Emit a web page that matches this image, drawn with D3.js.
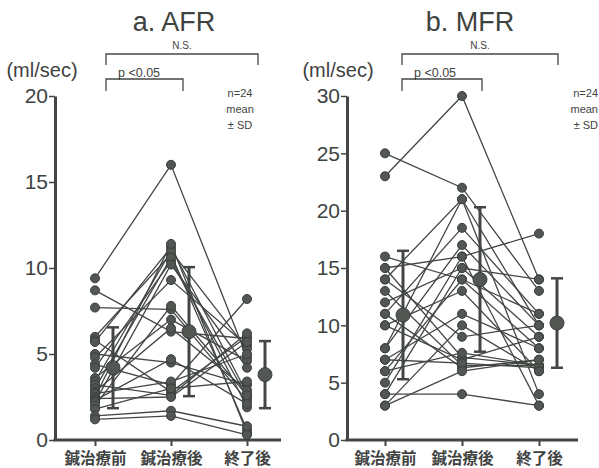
<!DOCTYPE html>
<meta charset="utf-8">
<style>
body { margin: 0; background: white; }
text { font-family: "Liberation Sans", Arial, sans-serif; fill: #3f433f; }
.cjk { font-family: "Noto Sans CJK JP", sans-serif; font-weight: bold; }
</style>
<body>
<script src="https://cdn.jsdelivr.net/npm/d3@7"></script>
<script>
var categories = ['鍼治療前', '鍼治療後', '終了後']

var afrPre  = [9.4, 8.7, 7.7, 6.0, 5.8, 5.7, 5.0, 4.8, 4.4, 4.2, 3.6, 3.4, 3.2, 3.0, 2.8, 2.7, 2.5, 2.4, 2.3, 2.2, 2.0, 1.8, 1.4, 1.2]
var afrPost = [16.0, 6.3, 7.6, 10.8, 2.8, 11.2, 4.5, 9.3, 3.2, 10.4, 7.0, 11.0, 2.6, 10.6, 6.5, 3.4, 11.4, 2.5, 4.7, 10.2, 7.8, 3.0, 1.7, 1.4]
var afrEnd  = [4.8, 5.9, 2.3, 0.6, 6.0, 2.7, 3.2, 5.5, 8.2, 2.5, 4.6, 5.3, 6.2, 1.9, 2.9, 5.0, 0.4, 5.7, 2.1, 4.2, 2.6, 3.4, 0.8, 0.3]
var afrMean = [4.2, 6.3, 3.8]
var afrSd   = [2.35, 3.75, 1.95]
var afrTicks = [0, 5, 10, 15, 20]

var mfrPre  = [25, 23, 16, 15, 15, 14, 14, 13, 12, 11, 11, 10, 10, 8, 8, 7, 7, 6, 6, 5, 4, 4, 3, 3]
var mfrPost = [22, 30, 14, 16, 7.2, 21, 9, 6.5, 15, 18.5, 6.3, 13, 7, 17, 21, 6.7, 11, 14, 7.6, 16, 4, 15, 6, 10]
var mfrEnd  = [13, 14, 8, 18, 6.5, 10, 10, 6.5, 9, 11, 7, 6, 9, 10, 4, 6.3, 8, 11, 6.5, 3, 3, 14, 7, 6]
var mfrMean = [10.9, 14.0, 10.2]
var mfrSd   = [5.6, 6.3, 3.9]
var mfrTicks = [0, 5, 10, 15, 20, 25, 30]

var ink = '#434743'

var svg = d3.select('body').append('svg')
    .attr('width', 599)
    .attr('height', 468)

drawPanel({
    title: 'a.  AFR', titleX: 174, axisX: 55, axisEnd: 281, cats: [95, 247],
    max: 20, ticks: afrTicks, series: [afrPre, afrPost, afrEnd], mean: afrMean, sd: afrSd,
    unitX: 42, noteX: 240, noteAnchor: 'middle', bracketL: 106, bracketM: 183, bracketR: 258
})

drawPanel({
    title: 'b.  MFR', titleX: 470, axisX: 347, axisEnd: 578, cats: [385, 539],
    max: 30, ticks: mfrTicks, series: [mfrPre, mfrPost, mfrEnd], mean: mfrMean, sd: mfrSd,
    unitX: 338, noteX: 598, noteAnchor: 'end', bracketL: 402, bracketM: 482, bracketR: 558
})

function drawPanel(p) {
    var g = svg.append('g')
    var y = d3.scaleLinear().domain([0, p.max]).range([440, 96])
    var x = d3.scalePoint().domain(categories).range(p.cats)
    var off = 18

    g.append('text').attr('x', p.titleX).attr('y', 31)
        .attr('text-anchor', 'middle').attr('font-size', 27).text(p.title)
    g.append('text').attr('x', p.unitX).attr('y', 77)
        .attr('text-anchor', 'middle').attr('font-size', 20).text('(ml/sec)')

    // significance brackets
    var br = g.append('g').attr('fill', 'none').attr('stroke', ink).attr('stroke-width', 1.3)
    br.append('path').attr('d', 'M' + p.bracketL + ',65V54H' + p.bracketR + 'V65')
    br.append('path').attr('d', 'M' + p.bracketL + ',91V79H' + p.bracketM + 'V91')
    g.append('text').attr('x', (p.bracketL + p.bracketR) / 2).attr('y', 49)
        .attr('text-anchor', 'middle').attr('font-size', 10).text('N.S.')
    g.append('text').attr('x', p.bracketL + 12).attr('y', 77)
        .attr('font-size', 12.5).text('p <0.05')

    // note
    var note = g.append('text').attr('font-size', 11).attr('text-anchor', p.noteAnchor)
    ;['n=24', 'mean', '± SD'].forEach(function (t, i) {
        note.append('tspan').attr('x', p.noteX).attr('y', 97 + i * 16).text(t)
    })

    // axes
    var ya = g.append('g').attr('transform', 'translate(' + p.axisX + ',0)')
        .call(d3.axisLeft(y).tickValues(p.ticks).tickSize(6).tickSizeOuter(0))
    ya.select('.domain').attr('stroke', ink).attr('stroke-width', 3)
    ya.selectAll('.tick line').attr('stroke', ink).attr('stroke-width', 1.5)
    ya.selectAll('.tick text').attr('font-size', 21).attr('fill', '#4a4e4a')
        .attr('font-family', '"Liberation Sans", Arial, sans-serif').attr('x', -7)

    var xa = g.append('g').attr('transform', 'translate(0,440)')
        .call(d3.axisBottom(x).tickSize(6).tickSizeOuter(0))
    xa.select('.domain').attr('d', 'M' + (p.axisX - 1.5) + ',0H' + p.axisEnd)
        .attr('stroke', ink).attr('stroke-width', 3)
    xa.selectAll('.tick line').attr('stroke', ink).attr('stroke-width', 2)
    xa.selectAll('.tick text').attr('class', 'cjk').attr('font-size', 15.5)
        .attr('font-family', null).attr('fill', '#3f433f').attr('y', 13)

    // subject lines
    var subjects = p.series[0].map(function (d, i) {
        return p.series.map(function (s, j) { return [categories[j], s[i]] })
    })
    var line = d3.line().x(function (d) { return x(d[0]) }).y(function (d) { return y(d[1]) })
    g.append('g').selectAll('path').data(subjects).join('path')
        .attr('d', line).attr('fill', 'none').attr('stroke', ink).attr('stroke-width', 1.3)

    var pts = []
    subjects.forEach(function (s) { s.forEach(function (d) { pts.push(d) }) })
    g.append('g').selectAll('circle').data(pts).join('circle')
        .attr('cx', function (d) { return x(d[0]) })
        .attr('cy', function (d) { return y(d[1]) })
        .attr('r', 4.5).attr('fill', '#535753').attr('stroke', '#3a3e3a').attr('stroke-width', 1)

    // mean ± SD
    var ms = g.append('g').selectAll('g').data(p.mean).join('g')
        .attr('transform', function (d, i) { return 'translate(' + (x(categories[i]) + off) + ',0)' })
    ms.append('line')
        .attr('y1', function (d, i) { return y(d - p.sd[i]) })
        .attr('y2', function (d, i) { return y(d + p.sd[i]) })
        .attr('stroke', ink).attr('stroke-width', 3)
    ms.append('line').attr('x1', -6).attr('x2', 6)
        .attr('y1', function (d, i) { return y(d + p.sd[i]) })
        .attr('y2', function (d, i) { return y(d + p.sd[i]) })
        .attr('stroke', ink).attr('stroke-width', 2.5)
    ms.append('line').attr('x1', -6).attr('x2', 6)
        .attr('y1', function (d, i) { return y(d - p.sd[i]) })
        .attr('y2', function (d, i) { return y(d - p.sd[i]) })
        .attr('stroke', ink).attr('stroke-width', 2.5)
    ms.append('circle').attr('cy', function (d) { return y(d) }).attr('r', 7)
        .attr('fill', '#535753').attr('stroke', '#3a3e3a')
}
</script>
</body>
